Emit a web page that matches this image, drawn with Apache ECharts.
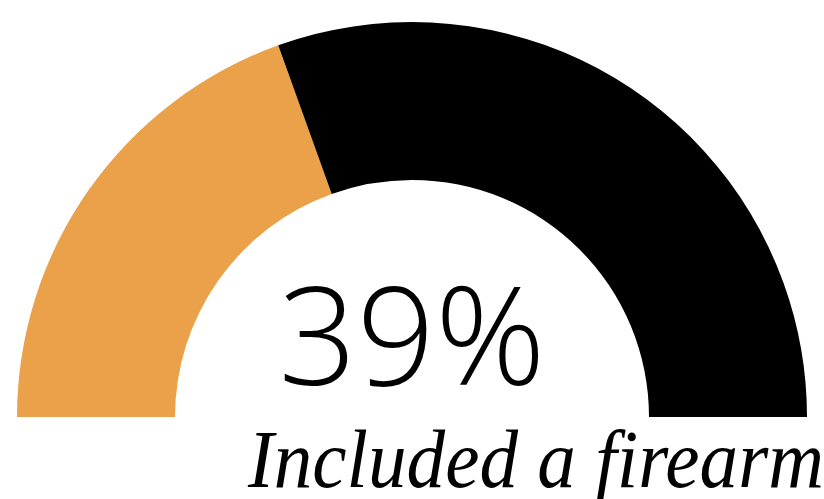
<!DOCTYPE html>
<html><head><meta charset="utf-8">
<script src="https://cdn.jsdelivr.net/npm/echarts@6/dist/echarts.min.js"></script>
<style>html,body{margin:0;padding:0;background:#fff}#c{width:824px;height:499px}</style>
</head><body><div id="c"></div>
<script>
var categories = ['Included a firearm', 'Did not include a firearm'];
var values = [39, 61];
var colors = ['#EAA14A', '#000000'];
var centerLabel = '39%';
var caption = 'Included a firearm';

var chart = echarts.init(document.getElementById('c'), null, {renderer: 'canvas'});
chart.setOption({
  animation: false,
  backgroundColor: '#ffffff',
  series: [{
    type: 'pie',
    silent: true,
    center: [412, 417],
    radius: [237, 395],
    startAngle: 180,
    endAngle: 0,
    clockwise: true,
    label: {show: false},
    labelLine: {show: false},
    itemStyle: {borderWidth: 0},
    data: categories.map(function (c, i) {
      return {name: c, value: values[i], itemStyle: {color: colors[i]}};
    })
  }],
  graphic: [
    {
      type: 'text',
      left: 'center',
      top: 277,
      style: {
        text: centerLabel,
        font: '300 137px "Open Sans"',
        fill: '#000'
      }
    },
    {
      type: 'text',
      x: 248,
      y: 424,
      scaleX: 0.93,
      style: {
        text: caption,
        font: 'italic 83px "Liberation Serif"',
        fill: '#000'
      }
    }
  ]
});
</script></body></html>
